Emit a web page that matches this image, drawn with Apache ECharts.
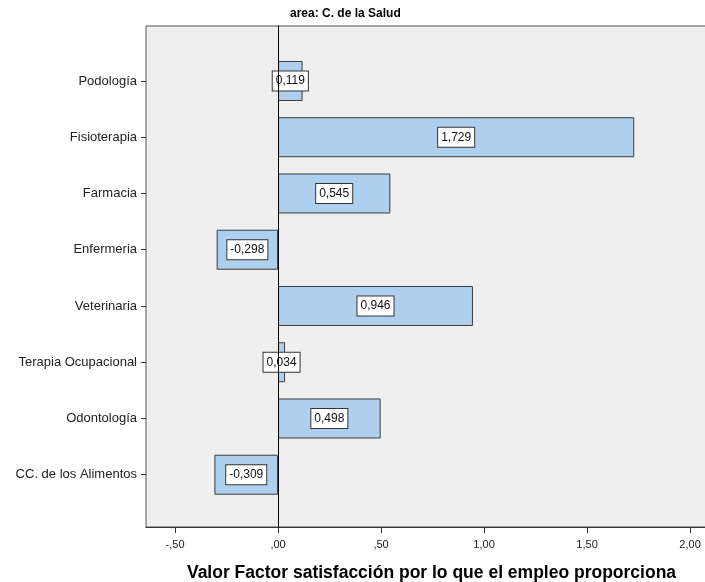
<!DOCTYPE html>
<html>
<head>
<meta charset="utf-8">
<script src="https://cdn.jsdelivr.net/npm/echarts@6/dist/echarts.min.js"></script>
<style>
  html, body { margin: 0; padding: 0; background: #fff; }
  #chart { width: 705px; height: 582px; }
</style>
</head>
<body>
<div id="chart"></div>
<script>
// datos (de arriba a abajo)
const categories = ["Podología", "Fisioterapia", "Farmacia", "Enfermeria", "Veterinaria", "Terapia Ocupacional", "Odontología", "CC. de los Alimentos"];
const values = [0.119, 1.729, 0.545, -0.298, 0.946, 0.034, 0.498, -0.309];
const xTickValues = [-0.5, 0, 0.5, 1, 1.5, 2];
const xTickLabels = ["-,50", ",00", ",50", "1,00", "1,50", "2,00"];

const FONT = "'Liberation Sans', Arial, sans-serif";
const X_MIN = -0.641;
const X_MAX = 2.087;

const chart = echarts.init(document.getElementById("chart"));
const option = {
  animation: false,
  title: {
    text: "area: C. de la Salud",
    left: 290,
    top: 8,
    padding: 0,
    textStyle: { fontFamily: FONT, fontSize: 12, fontWeight: "bold", color: "#000" }
  },
  grid: [
    // marco del grafico
    { left: 146, top: 26, width: 562, height: 501, outerBoundsMode: "none", containLabel: false,
      show: true, backgroundColor: "#efefef", borderColor: "#555", borderWidth: 1 },
    // zona de las barras
    { left: 146, top: 52.85, width: 562, height: 450, outerBoundsMode: "none", containLabel: false }
  ],
  xAxis: [
    {
      gridIndex: 0,
      type: "value",
      min: X_MIN,
      max: X_MAX,
      position: "bottom",
      axisLine: { show: true, onZero: false, lineStyle: { color: "#333" } },
      axisTick: { show: true, customValues: xTickValues, length: 6, lineStyle: { color: "#333" } },
      axisLabel: {
        customValues: xTickValues,
        fontFamily: FONT, fontSize: 11, color: "#222", margin: 12,
        formatter: (v) => {
          const i = xTickValues.findIndex((t) => Math.abs(t - v) < 1e-9);
          return i >= 0 ? xTickLabels[i] : "";
        }
      },
      splitLine: { show: false },
      name: "Valor Factor satisfacción por lo que el empleo proporciona",
      nameLocation: "middle",
      nameGap: 37,
      nameTextStyle: { fontFamily: FONT, fontSize: 17.5, fontWeight: "bold", color: "#000", padding: [0, 0, 0, 9] }
    },
    { gridIndex: 1, type: "value", min: X_MIN, max: X_MAX, show: false }
  ],
  yAxis: [
    {
      // linea del cero
      gridIndex: 0,
      type: "value",
      min: 1,
      max: 2,
      z: 10,
      axisLine: { show: true, onZero: true, lineStyle: { color: "#000", width: 1 } },
      axisTick: { show: false },
      axisLabel: { show: false },
      splitLine: { show: false }
    },
    {
      gridIndex: 1,
      type: "category",
      data: categories,
      inverse: true,
      axisLine: { show: false, onZero: false },
      axisTick: { show: true, alignWithLabel: true, length: 5, lineStyle: { color: "#333" } },
      axisLabel: { fontFamily: FONT, fontSize: 13, color: "#222", margin: 9 },
      splitLine: { show: false }
    }
  ],
  series: [
    {
      type: "bar",
      xAxisIndex: 1,
      yAxisIndex: 1,
      data: values,
      barWidth: 40,
      itemStyle: { color: "#aed0ee", borderColor: "#3c3c3c", borderWidth: 1 },
      label: {
        show: true,
        position: "inside",
        formatter: (p) => p.value.toFixed(3).replace(".", ","),
        fontFamily: FONT,
        fontSize: 12,
        color: "#111",
        backgroundColor: "#fff",
        borderColor: "#333",
        borderWidth: 1,
        padding: [4, 3, 3, 3]
      }
    }
  ]
};
chart.setOption(option);
</script>
</body>
</html>
